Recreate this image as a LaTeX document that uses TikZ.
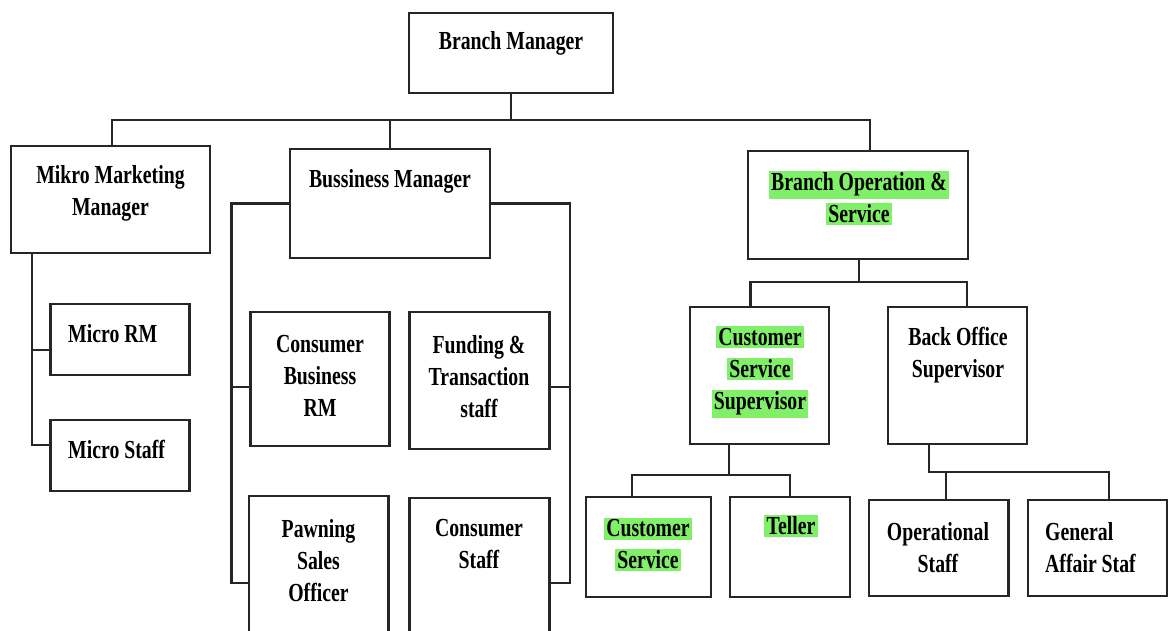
\documentclass[tikz,border=0pt]{standalone}
\usepackage{fontspec}
\newfontfamily\lbl{Liberation Serif}[FakeStretch=0.76]
\definecolor{hl}{RGB}{128,240,104}
\newcommand{\hlx}[1]{{\setlength{\fboxsep}{2.2pt}\colorbox{hl}{#1}}}
\begin{document}
\begin{tikzpicture}[x=1pt,y=-1pt,
  box/.style={draw=black!85, line width=2.6pt, inner sep=0pt, rectangle},
  lab/.style={font=\lbl\bfseries\fontsize{26}{32}\selectfont, align=center, inner sep=0pt, text=black},
  conn/.style={line width=2.2pt, draw=black!85}]
\useasboundingbox (0,0) rectangle (1168,630);
\fill[white] (0,0) rectangle (1168,630);
\clip (0,0) rectangle (1168,630);

% boxes
\node[box, minimum width=204pt, minimum height=80pt]  (bm)   at (511,53) {};
\node[box, minimum width=199pt, minimum height=107pt] (mmm)  at (110.5,199.5) {};
\node[box, minimum width=200pt, minimum height=109pt] (bus)  at (390,203.5) {};
\node[box, minimum width=220pt, minimum height=108pt] (bos)  at (858,205) {};
\node[box, minimum width=139.5pt, minimum height=71pt] (mrm) at (120,339.5) {};
\node[box, minimum width=139.5pt, minimum height=71pt] (mst) at (120,455.5) {};
\node[box, minimum width=138.5pt, minimum height=134pt] (cbrm) at (320,379) {};
\node[box, minimum width=140pt, minimum height=137pt] (fts)  at (479.5,380.5) {};
\node[box, minimum width=139.5pt, minimum height=164pt] (pso) at (318.75,578) {};
\node[box, minimum width=140pt, minimum height=162pt] (cst)  at (479.5,579) {};
\node[box, minimum width=139pt, minimum height=137pt] (css)  at (759.5,375.5) {};
\node[box, minimum width=139pt, minimum height=137pt] (bkos) at (957.5,375.5) {};
\node[box, minimum width=125pt, minimum height=100pt] (cs)   at (648.5,547) {};
\node[box, minimum width=120pt, minimum height=100pt] (tel)  at (790,547) {};
\node[box, minimum width=139.5pt, minimum height=96pt] (ops) at (938.75,548) {};
\node[box, minimum width=139pt, minimum height=96pt] (gas)   at (1097.5,548) {};

% labels
\node[lab] (t-bm)   at (511,43) {Branch Manager};
\node[lab] (t-mmm)  at (110.5,193.5) {Mikro Marketing\\Manager};
\node[lab] (t-bus)  at (390,181.5) {Bussiness Manager};
\node[lab] (t-bos)  at (859,198) {\hlx{Branch Operation \&}\\\hlx{Service}};
\node[lab] (t-css)  at (760,372) {\hlx{Customer}\\\hlx{Service}\\\hlx{Supervisor}};
\node[lab] (t-bkos) at (958,355.5) {Back Office\\Supervisor};
\node[lab, anchor=west] (t-mrm) at (68,334) {Micro RM};
\node[lab, anchor=west] (t-mst) at (68,449) {Micro Staff};
\node[lab] (t-cbrm) at (320,376) {Consumer\\Business\\RM};
\node[lab] (t-fts)  at (479,376.5) {Funding \&\\Transaction\\staff};
\node[lab] (t-pso)  at (318.5,560.5) {Pawning\\Sales\\Officer};
\node[lab] (t-cst)  at (479,544.5) {Consumer\\Staff};
\node[lab] (t-cs)   at (648,544.5) {\hlx{Customer}\\\hlx{Service}};
\node[lab] (t-tel)  at (791,526) {\hlx{Teller}};
\node[lab] (t-ops)  at (938,547.5) {Operational\\Staff};
\node[lab, align=left, anchor=west] (t-gas) at (1045,547.5) {General\\Affair Staf};

% junction coordinates
\coordinate (j0) at (511,120);
\coordinate (jbl) at (231.5,583);
\coordinate (jbr) at (570,583);
\coordinate (jm) at (32,445);
\coordinate (jo) at (859,282);
\coordinate (jc) at (729,475);
\coordinate (jk) at (929,472);

% connectors
\draw[conn] (bm.south) -- (j0);
\draw[conn] (mmm.north -| 112,0) |- (j0) -| (bos.north -| 870,0);
\draw[conn] (bus.north) -- (bus.north |- j0);
% business manager
\draw[conn] (bus.west) -| (jbl) -- (jbl -| pso.west);
\draw[conn] (cbrm.west |- 0,387) -- (231.5,387);
\draw[conn] (bus.east) -| (jbr) -- (jbr -| cst.east);
\draw[conn] (fts.east |- 0,387) -- (570,387);
% mikro
\draw[conn] (mmm.south -| jm) -- (jm) -- (jm -| mst.west);
\draw[conn] (mrm.west |- 0,350) -- (32,350);
% branch operation
\draw[conn] (bos.south -| jo) -- (jo);
\draw[conn] (css.north -| 750.5,0) |- (jo) -| (bkos.north -| 967,0);
% customer service supervisor
\draw[conn] (css.south -| jc) -- (jc);
\draw[conn] (cs.north -| 632,0) |- (jc) -| (tel.north);
% back office supervisor
\draw[conn] (bkos.south -| jk) -- (jk) -- (1109,472) -- (gas.north -| 1109,0);
\draw[conn] (946,472) -- (ops.north -| 946,0);
\end{tikzpicture}
\end{document}
